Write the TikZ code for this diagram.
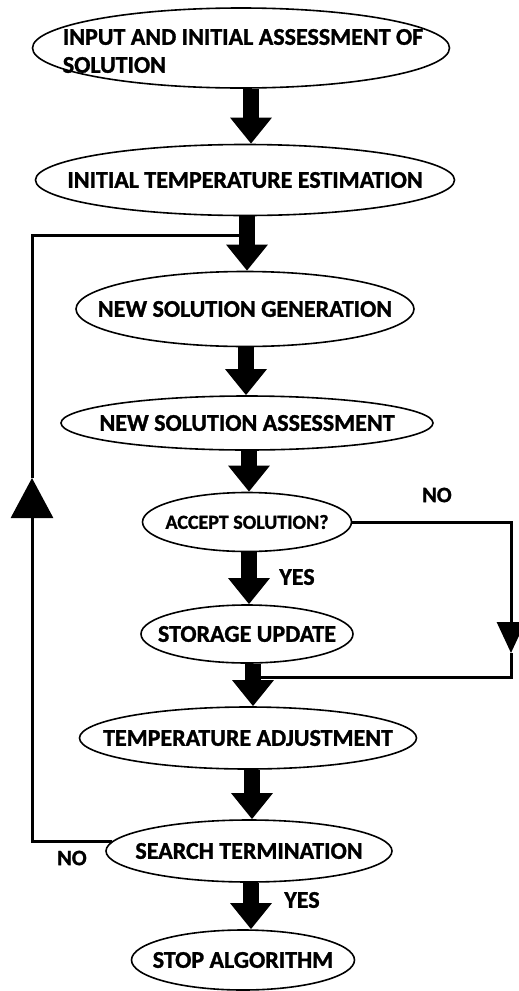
\documentclass[tikz,border=0pt]{standalone}
\usepackage{fontspec}
\setmainfont{Carlito}[BoldFeatures={FakeBold=1.2}]
\usetikzlibrary{shapes.geometric,arrows.meta}
\tikzset{
  oval/.style={ellipse,draw=black,line width=1.6pt,inner sep=0pt},
  ovaltext/.style={align=left,inner sep=0pt,font=\bfseries\fontsize{24}{28}\selectfont},
  smalltext/.style={inner sep=0pt,font=\bfseries\fontsize{20}{22}\selectfont},
  bigarrow/.style={line width=16pt,-{Triangle[width=40pt,length=26pt]}},
  loopline/.style={line width=3pt},
  lbl/.style={font=\bfseries\fontsize{22}{24}\selectfont,inner sep=0pt},
  lblyes/.style={font=\bfseries\fontsize{24}{26}\selectfont,inner sep=0pt}
}
\begin{document}
\begin{tikzpicture}[x=1pt,y=1pt]
\useasboundingbox (0,0) rectangle (519,-991);
\node[oval,minimum width=417pt,minimum height=80pt,label={[ovaltext,yshift=-3pt,xshift=2pt]center:INPUT AND INITIAL ASSESSMENT OF\\SOLUTION}] (e1) at (241,-48) {};
\node[oval,minimum width=419pt,minimum height=71pt,label={[ovaltext]center:INITIAL TEMPERATURE ESTIMATION}] (e2) at (245,-180) {};
\node[oval,minimum width=338pt,minimum height=75pt,label={[ovaltext]center:NEW SOLUTION GENERATION}] (e3) at (245,-309) {};
\node[oval,minimum width=372pt,minimum height=54pt,label={[ovaltext]center:NEW SOLUTION ASSESSMENT}] (e4) at (247,-423) {};
\node[oval,minimum width=209pt,minimum height=59pt,label={[smalltext]center:ACCEPT SOLUTION?}] (e5) at (247,-522) {};
\node[oval,minimum width=212pt,minimum height=58pt,label={[ovaltext]center:STORAGE UPDATE}] (e6) at (247,-634) {};
\node[oval,minimum width=337pt,minimum height=62pt,label={[ovaltext]center:TEMPERATURE ADJUSTMENT}] (e7) at (248,-738) {};
\node[oval,minimum width=286pt,minimum height=62pt,label={[ovaltext]center:SEARCH TERMINATION}] (e8) at (249,-851) {};
\node[oval,minimum width=223pt,minimum height=60pt,label={[ovaltext]center:STOP ALGORITHM}] (e9) at (243,-960) {};

\draw[bigarrow] (e1.south -| 251,0) -- (e2.north -| 251,0);
\draw[bigarrow] (e2.south -| 247,0) -- (e3.north -| 247,0);
\draw[bigarrow] (e3.south -| 246,0) -- (e4.north -| 246,0);
\draw[bigarrow] (e4.south -| 249,0) -- (e5.north -| 249,0);
\draw[bigarrow] (e5.south -| 249,0) -- (e6.north -| 249,0);
\draw[bigarrow] (e6.south -| 253,0) -- (e7.north -| 253,0);
\draw[bigarrow] (e7.south -| 252,0) -- (e8.north -| 252,0);
\draw[bigarrow] (e8.south -| 251,0) -- (e9.north -| 251,0);

% NO branch from accept
\coordinate (nodown) at (511,-653);
\coordinate (nojoin) at (256,-677);
\draw[loopline,-{Triangle[width=28pt,length=31pt]}] (e5.east) -| (nodown);
\draw[loopline] (nodown) |- (nojoin);
\node[lbl] (lno1) at (437,-495) {NO};

% loop back from search termination
\coordinate (loopup) at (32,-478);
\coordinate (loopjoin) at (247,-235);
\draw[loopline,-{Triangle[width=42pt,length=40pt]}] (e8.176) -| (loopup);
\draw[loopline] (loopup) |- (loopjoin);
\node[lbl] (lno2) at (72,-858) {NO};

\node[lblyes] (lyes1) at (297,-577) {YES};
\node[lblyes] (lyes2) at (302,-900) {YES};
\end{tikzpicture}
\end{document}
